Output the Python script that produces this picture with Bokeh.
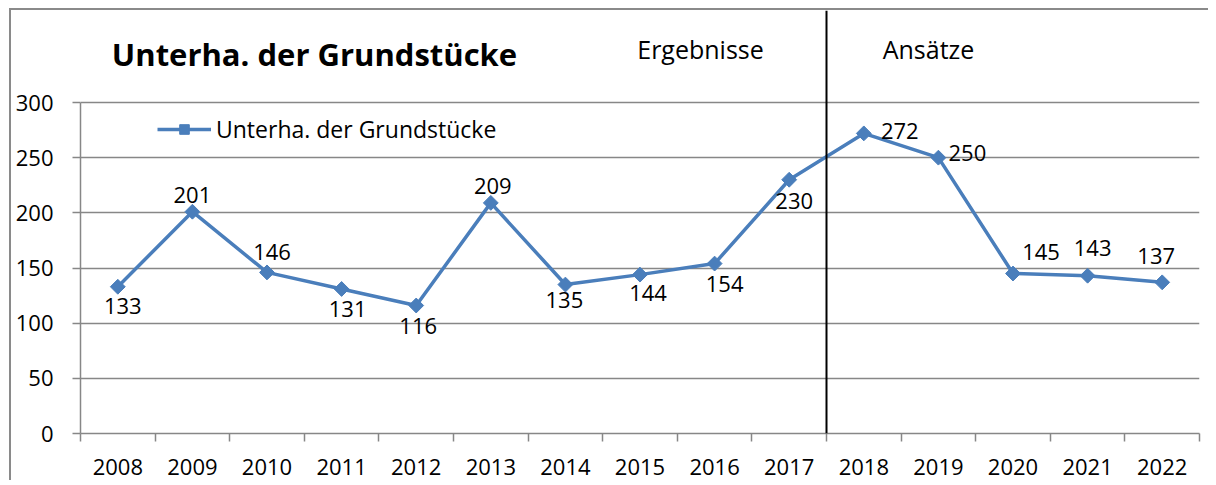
import numpy as np
from bokeh.plotting import figure
from bokeh.models import (ColumnDataSource, Range1d, FixedTicker, Span, Label,
                          LabelSet, Legend, LegendItem)
from bokeh.core.properties import value
from bokeh.embed import file_html
from bokeh.resources import INLINE

# ---- data ----
years = ["2008", "2009", "2010", "2011", "2012", "2013", "2014", "2015",
         "2016", "2017", "2018", "2019", "2020", "2021", "2022"]
values = [133, 201, 146, 131, 116, 209, 135, 144, 154, 230, 272, 250, 145, 143, 137]
series_name = "Unterha. der Grundstücke"
title_text = "Unterha. der Grundstücke"
section_left = "Ergebnisse"
section_right = "Ansätze"
first_plan_year = "2018"
y_ticks = [0, 50, 100, 150, 200, 250, 300]

# label placement offsets (pixels, style only)
label_dx = [5, 0, 5, 6, 2, 2, -1, 8, 10, 5, 36, 29, 28, 5, -6]
label_dy = [-19, 17, 20, -20, -20, 17, -15, -18, -20, -21, 2, 5, 22, 28, 26]

FONT = "Open Sans"
BLUE = "#4A7EBB"
GRAY = "#878787"

n = len(years)
xs = [i + 0.5 for i in range(n)]

src = ColumnDataSource(dict(x=xs, y=values, txt=[str(v) for v in values],
                            dx=label_dx, dy=label_dy))

px_per_unit = 331 / 300.0
top_border = 10
frame_h = 433 - top_border
p = figure(width=1208, height=480, output_backend="svg", toolbar_location=None,
           x_range=Range1d(0, n), y_range=Range1d(0, frame_h / px_per_unit),
           min_border_left=80, min_border_right=9, min_border_top=top_border,
           min_border_bottom=47)
p.outline_line_color = None
p.background_fill_color = "white"
p.border_fill_color = None
p.styles = {
    "background-color": "white",
    "background-image": "linear-gradient(#8a8a8a, #8a8a8a), linear-gradient(#8a8a8a, #8a8a8a)",
    "background-size": "2px 100%, 100% 2px",
    "background-position": "9px 9px, 9px 8px",
    "background-repeat": "no-repeat",
}

# y axis
p.yaxis.ticker = FixedTicker(ticks=y_ticks)
p.yaxis.bounds = (0, 300)
p.yaxis.axis_line_color = GRAY
p.yaxis.axis_line_width = 1.5
p.yaxis.major_tick_line_color = GRAY
p.yaxis.major_tick_line_width = 1.5
p.yaxis.major_tick_out = 8
p.yaxis.major_tick_in = 0
p.yaxis.minor_tick_line_color = None
p.yaxis.major_label_standoff = 19
p.yaxis.major_label_text_font = FONT
p.yaxis.major_label_text_font_size = "22px"
p.yaxis.major_label_text_color = "black"
p.ygrid.ticker = FixedTicker(ticks=y_ticks)
p.ygrid.grid_line_color = GRAY
p.ygrid.grid_line_width = 1.5

# x axis: labels at centers, tick marks at category boundaries
p.xaxis.ticker = FixedTicker(ticks=xs, minor_ticks=list(range(n + 1)))
p.xaxis.major_label_overrides = {x: y for x, y in zip(xs, years)}
p.xaxis.axis_line_color = GRAY
p.xaxis.axis_line_width = 1.5
p.xaxis.major_tick_line_color = None
p.xaxis.major_tick_out = 0
p.xaxis.major_tick_in = 0
p.xaxis.minor_tick_line_color = GRAY
p.xaxis.minor_tick_line_width = 1.5
p.xaxis.minor_tick_out = 8
p.xaxis.minor_tick_in = 0
p.xaxis.major_label_standoff = 17
p.xaxis.major_label_text_font = FONT
p.xaxis.major_label_text_font_size = "22px"
p.xaxis.major_label_text_color = "black"
p.xgrid.grid_line_color = None

# divider between results and plan values
p.add_layout(Span(location=years.index(first_plan_year), dimension="height",
                  line_color="black", line_width=2))

line_r = p.line("x", "y", source=src, line_color=BLUE, line_width=3.5)
mark_r = p.scatter("x", "y", source=src, marker="square", angle=np.pi / 4,
                   size=10.5, fill_color=BLUE, line_color=BLUE)

labels = LabelSet(x="x", y="y", text="txt", source=src, x_offset="dx", y_offset="dy",
                  text_align="center", text_baseline="middle",
                  text_font=value(FONT), text_font_size=value("22px"),
                  text_color="black")
p.add_layout(labels)

p.add_layout(Label(x=234, y=380, x_units="screen", y_units="screen", text=title_text,
                   text_align="center", text_baseline="middle", text_font=FONT,
                   text_font_size="31px", text_font_style="bold", text_color="black"))
p.add_layout(Label(x=620, y=385, x_units="screen", y_units="screen", text=section_left,
                   text_align="center", text_baseline="middle", text_font=FONT,
                   text_font_size="25px", text_color="black"))
p.add_layout(Label(x=848, y=385, x_units="screen", y_units="screen", text=section_right,
                   text_align="center", text_baseline="middle", text_font=FONT,
                   text_font_size="25px", text_color="black"))

legend = Legend(items=[LegendItem(label=series_name, renderers=[line_r, mark_r])],
                location=(77, 288), margin=0, padding=0, border_line_color=None,
                background_fill_alpha=0, glyph_width=54, glyph_height=24,
                label_height=24, label_standoff=5, label_text_font=FONT,
                label_text_font_size="23px", label_text_color="black")
p.add_layout(legend)

open("out.html", "w").write(file_html(p, INLINE))
